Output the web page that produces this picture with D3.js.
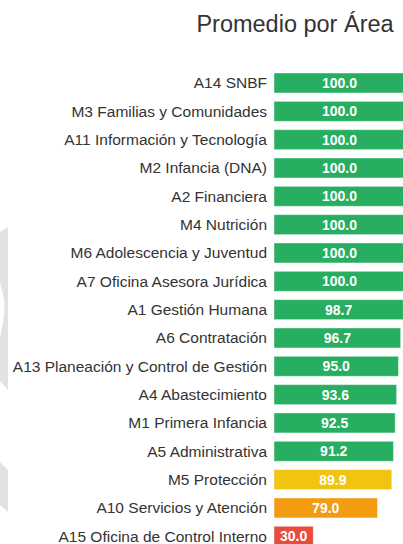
<!DOCTYPE html>
<html>
<head>
<meta charset="utf-8">
<script src="https://cdn.jsdelivr.net/npm/d3@7/dist/d3.min.js"></script>
<style>
  html, body { margin: 0; padding: 0; background: #fff; overflow: hidden; }
  svg { display: block; font-family: "Liberation Sans", Arial, sans-serif; }
</style>
</head>
<body>
<div id="chart"></div>
<script>
const areas = [
  'A14 SNBF',
  'M3 Familias y Comunidades',
  'A11 Información y Tecnología',
  'M2 Infancia (DNA)',
  'A2 Financiera',
  'M4 Nutrición',
  'M6 Adolescencia y Juventud',
  'A7 Oficina Asesora Jurídica',
  'A1 Gestión Humana',
  'A6 Contratación',
  'A13 Planeación y Control de Gestión',
  'A4 Abastecimiento',
  'M1 Primera Infancia',
  'A5 Administrativa',
  'M5 Protección',
  'A10 Servicios y Atención',
  'A15 Oficina de Control Interno'
];
const promedios = [100.0, 100.0, 100.0, 100.0, 100.0, 100.0, 100.0, 100.0, 98.7, 96.7, 95.0, 93.6, 92.5, 91.2, 89.9, 79.0, 30.0];
const thresholds = [50, 80, 90];
const levelColors = ['#e74c3c', '#f39c12', '#f1c40f', '#27ae60'];

const width = 403;
const height = 544;

const svg = d3.select('#chart').append('svg')
  .attr('width', width)
  .attr('height', height);

// faint watermark shapes at the left edge
const mark = svg.append('g').attr('fill', '#e2e2e2');
mark.append('path')
  .attr('d', 'M0,232 L8,227 L8,390 L0,381 L0,338 C3,326 5,312 4,300 C3,292 1,287 0,283 Z');
mark.append('path')
  .attr('d', 'M0,462 L8,470 L8,512 L0,505 Z');

svg.append('text')
  .attr('x', 295)
  .attr('y', 32)
  .attr('text-anchor', 'middle')
  .attr('fill', '#333')
  .attr('font-size', 23.5)
  .text('Promedio por Área');

const x = d3.scaleLinear().domain([0, 100]).range([274, 405]);
const y = d3.scaleBand().domain(areas).range([68.83, 550.44]).paddingInner(0.294).paddingOuter(0.147);
const color = d3.scaleThreshold().domain(thresholds).range(levelColors);

const rows = svg.selectAll('g.row')
  .data(areas.map((a, i) => ({ area: a, value: promedios[i] })))
  .join('g')
  .attr('class', 'row');

rows.append('rect')
  .attr('x', x(0))
  .attr('y', d => y(d.area))
  .attr('width', d => x(d.value) - x(0))
  .attr('height', y.bandwidth())
  .attr('fill', d => color(d.value))
  .attr('stroke', 'rgba(255,255,255,0.45)')
  .attr('stroke-width', 1);

rows.append('text')
  .attr('x', 267)
  .attr('y', d => y(d.area) + y.bandwidth() / 2)
  .attr('dy', '0.35em')
  .attr('text-anchor', 'end')
  .attr('fill', '#333')
  .attr('font-size', 15.5)
  .text(d => d.area);

rows.append('text')
  .attr('x', d => (x(0) + x(d.value)) / 2)
  .attr('y', d => y(d.area) + y.bandwidth() / 2)
  .attr('dy', '0.36em')
  .attr('text-anchor', 'middle')
  .attr('fill', '#fff')
  .attr('font-size', 14)
  .attr('font-weight', 'bold')
  .text(d => d3.format('.1f')(d.value));
</script>
</body>
</html>
